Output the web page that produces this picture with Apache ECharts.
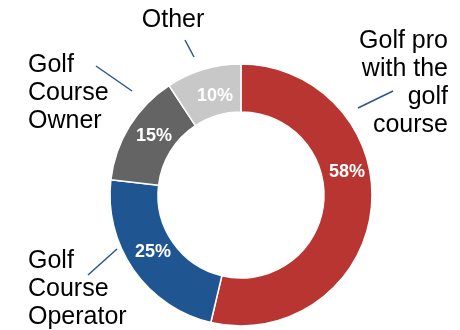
<!DOCTYPE html>
<html>
<head>
<meta charset="utf-8">
<script src="https://cdn.jsdelivr.net/npm/echarts@6/dist/echarts.min.js"></script>
<style>
  html, body { margin: 0; padding: 0; background: #fff; }
  #chart { width: 460px; height: 330px; }
</style>
</head>
<body>
<div id="chart"></div>
<script>
// Share of respondents by role
const categories = ['Golf pro\nwith the\ngolf\ncourse', 'Golf\nCourse\nOperator', 'Golf\nCourse\nOwner', 'Other'];
const shares = [58, 25, 15, 10];
const sliceColors = ['#b93532', '#1f5591', '#646464', '#c8c8c8'];

// Where the category names sit, and their short leader strokes (px)
const nameSpots = [
  { x: 448, y: 83, align: 'right' },
  { x: 28, y: 289, align: 'left' },
  { x: 28, y: 93, align: 'left' },
  { x: 173, y: 20, align: 'center' }
];
const leaderLines = [
  [[358, 108], [393, 91]],
  [[88, 275], [117, 249]],
  [[96, 66], [132, 91]],
  [[185, 40], [194, 57]]
];
// Where the percentage labels sit inside the ring (px)
const pctSpots = [[347, 172], [153, 252], [154, 136], [215, 96]];

const FONT = '"Liberation Sans", Arial, Helvetica, sans-serif';
const ringCenter = [241, 195];
const ringRadius = [83, 131];

const chart = echarts.init(document.getElementById('chart'), null, { renderer: 'canvas' });

chart.setOption({
  backgroundColor: '#ffffff',
  animation: false,
  series: [
    {
      type: 'pie',
      center: ringCenter,
      radius: ringRadius,
      startAngle: 90,
      clockwise: true,
      avoidLabelOverlap: false,
      silent: true,
      emphasis: { disabled: true },
      data: shares.map((v, i) => ({
        value: v,
        name: categories[i],
        itemStyle: { color: sliceColors[i] }
      })),
      itemStyle: { borderColor: '#ffffff', borderWidth: 1.5 },
      label: {
        show: true,
        position: 'inside',
        formatter: '{c}%',
        color: '#ffffff',
        fontFamily: FONT,
        fontWeight: 'bold',
        fontSize: 18
      },
      labelLine: { show: false },
      labelLayout: function (p) {
        const s = pctSpots[p.dataIndex];
        return { x: s[0], y: s[1], align: 'center', verticalAlign: 'middle' };
      }
    },
    {
      type: 'pie',
      center: ringCenter,
      radius: ringRadius,
      startAngle: 90,
      clockwise: true,
      avoidLabelOverlap: false,
      silent: true,
      emphasis: { disabled: true },
      data: shares.map((v, i) => ({
        value: v,
        name: categories[i],
        itemStyle: { color: 'rgba(0,0,0,0)' }
      })),
      label: {
        show: true,
        position: 'outside',
        formatter: '{b}',
        color: '#000000',
        fontFamily: FONT,
        fontSize: 25,
        lineHeight: 28
      },
      labelLine: {
        show: true,
        lineStyle: { color: '#2b568f', width: 1.5 }
      },
      labelLayout: function (p) {
        const s = nameSpots[p.dataIndex];
        return {
          x: s.x,
          y: s.y,
          align: s.align,
          verticalAlign: 'middle',
          labelLinePoints: leaderLines[p.dataIndex]
        };
      }
    }
  ]
});
</script>
</body>
</html>
